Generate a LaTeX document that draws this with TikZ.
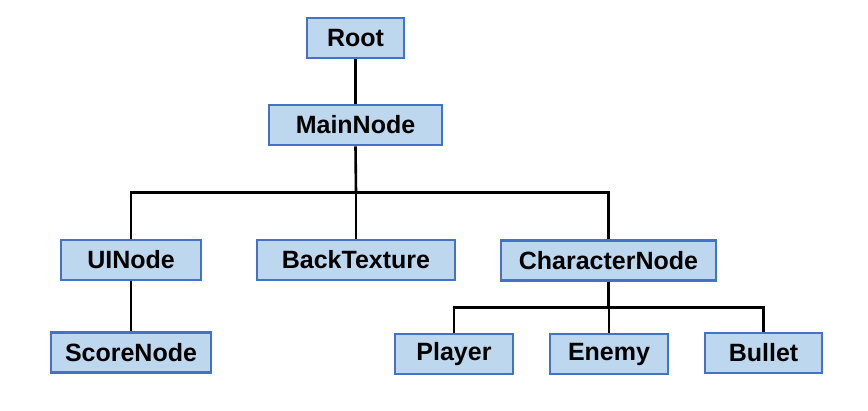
\documentclass[tikz,border=0pt]{standalone}
\usepackage{fontspec}
\setmainfont{Liberation Sans}
\begin{document}
\begin{tikzpicture}[x=1pt,y=-1pt,
  tnode/.style={draw=boxblue, fill=boxfill, line width=2.6pt, inner sep=0pt,
    minimum height=40pt, font=\fontsize{25}{29}\selectfont\bfseries, text=black},
  conn/.style={draw=black, line width=2.6pt}]
\definecolor{boxblue}{HTML}{4472C4}
\definecolor{boxfill}{HTML}{BDD7EE}
\useasboundingbox (0,0) rectangle (868,410);
\node[tnode, minimum width=97pt] (root) at (355.5,38) {Root};
\node[tnode, minimum width=173pt] (main) at (355.5,125) {MainNode};
\node[tnode, minimum width=140pt] (ui) at (131,260) {UINode};
\node[tnode, minimum width=198pt] (back) at (356,260) {BackTexture};
\node[tnode, minimum width=215pt] (char) at (608.5,260.5) {CharacterNode};
\node[tnode, minimum width=160pt] (score) at (131,352.7) {ScoreNode};
\node[tnode, minimum width=118pt] (player) at (454,354) {Player};
\node[tnode, minimum width=118pt] (enemy) at (609,354) {Enemy};
\node[tnode, minimum width=117pt] (bullet) at (763.5,353) {Bullet};
\coordinate (j1) at (356,192.3);
\coordinate (j2) at (608.5,307.7);
\draw[conn] (root.south) -- (main.north);
\draw[conn] (main.south) -- (j1);
\draw[conn] (ui.north) |- (j1) -| (char.north);
\draw[conn] (back.north) -- (back.north |- j1);
\draw[conn] (ui.south) -- (score.north);
\draw[conn] (char.south) -- (j2);
\draw[conn] (player.north) |- (j2) -| (bullet.north);
\draw[conn] (enemy.north) -- (enemy.north |- j2);
\end{tikzpicture}
\end{document}
